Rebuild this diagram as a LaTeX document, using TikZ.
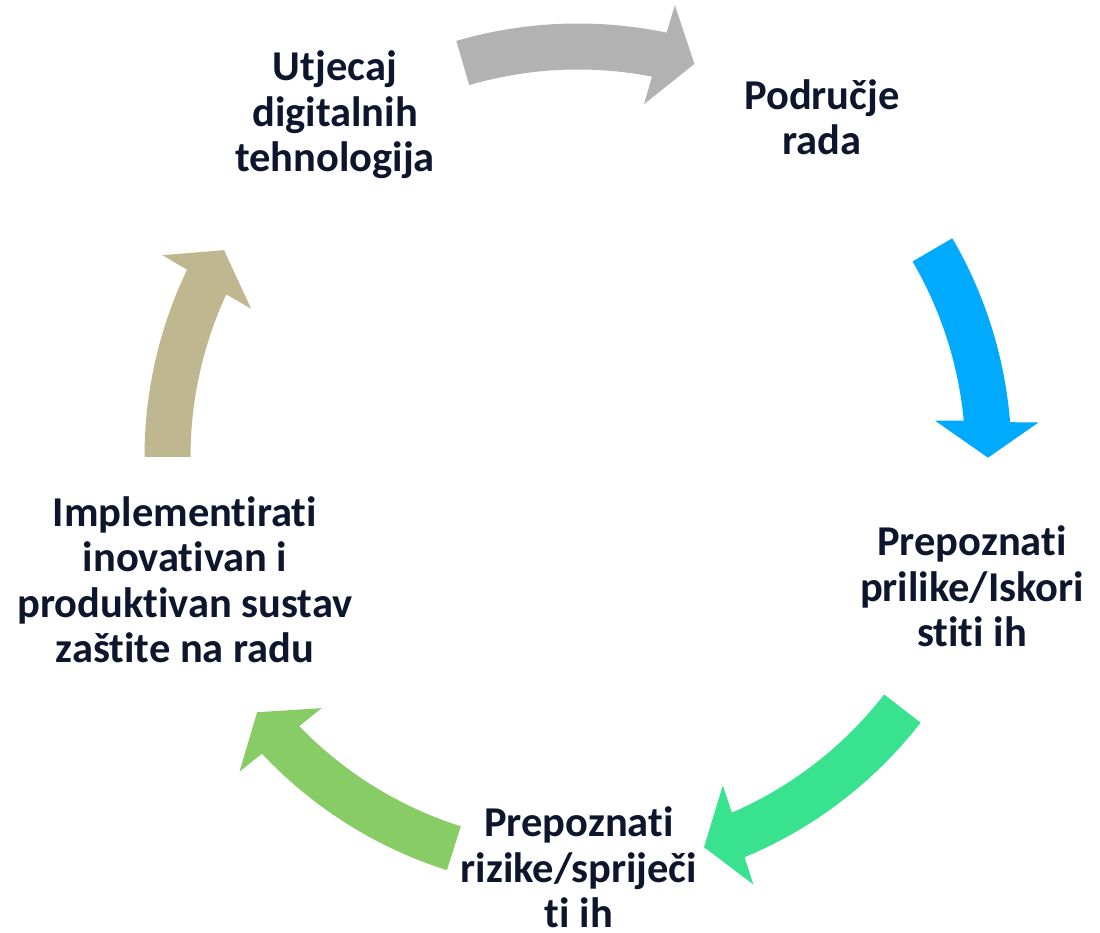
\documentclass[tikz,border=0pt]{standalone}
\usepackage{fontspec}
\setmainfont{Carlito}[Ligatures={NoCommon}]
\definecolor{txt}{RGB}{14,22,46}
\definecolor{agray}{RGB}{178,178,178}
\definecolor{ablue}{RGB}{0,170,255}
\definecolor{agreen}{RGB}{56,226,142}
\definecolor{algreen}{RGB}{136,204,102}
\definecolor{akhaki}{RGB}{190,183,143}
\newcommand\cycarrow[3]{%
  \fill[#1] ([shift={(C)}]#2:433.5) arc[start angle=#2, end angle={#3+4.7}, radius=433.5]
    -- ([shift={(C)}]{#3+4.4}:462) -- ([shift={(C)}]#3:410)
    -- ([shift={(C)}]{#3+5.9}:359) -- ([shift={(C)}]{#3+5.5}:387.5)
    arc[start angle={#3+5.5}, end angle=#2, radius=387.5] -- cycle;}
\begin{document}
\begin{tikzpicture}[x=1pt,y=1pt,
  lbl/.style={text=txt, font=\fontsize{42.5}{45.5}\selectfont\bfseries, align=center, inner sep=0pt, anchor=base}]
\useasboundingbox[fill=white] (0,0) rectangle (1100,933);
\coordinate (C) at (578,476);
\cycarrow{agray}{106.3}{73.5}
\cycarrow{ablue}{30.3}{-0.1}
\cycarrow{agreen}{-37.8}{-72.1}
\cycarrow{algreen}{-107.6}{-141.5}
\cycarrow{akhaki}{180}{149.7}
\node[lbl] (ut) at (335,761) {Utjecaj\\digitalnih\\tehnologija};
\node[lbl] (po) at (822,778) {Područje\\rada};
\node[lbl] (pr) at (972,286) {Prepoznati\\prilike/Iskori\\stiti ih};
\node[lbl] (ri) at (579,5) {Prepoznati\\rizike/spriječi\\ti ih};
\node[lbl] (im) at (185,270) {Implementirati\\inovativan i\\produktivan sustav\\zaštite na radu};
\end{tikzpicture}
\end{document}
